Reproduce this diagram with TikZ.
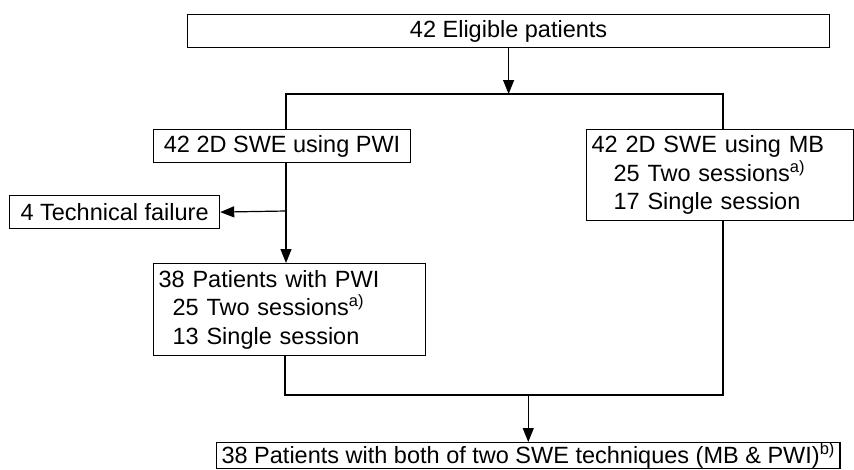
\documentclass[tikz,border=0pt]{standalone}
\usepackage{fontspec}
\setmainfont{Liberation Sans}
\usetikzlibrary{arrows.meta}
\begin{document}
\begin{tikzpicture}[x=1pt,y=-1pt,
 box/.style={draw, line width=1.2pt, inner sep=0pt, anchor=north west, font=\fontsize{23.5}{28.5}\selectfont},
 lbox/.style={box, align=left, inner xsep=5pt},
 link/.style={line width=1.2pt},
 arr/.style={link,-{Triangle[length=14pt,width=11pt]}}]
\useasboundingbox (0,0) rectangle (854,469);
\node[box, minimum width=642, minimum height=33] (top) at (187,14) {42 Eligible patients};
\node[box, minimum width=257, minimum height=33] (pwi) at (153,129) {42 2D SWE using PWI};
\node[lbox, text width=257, minimum height=91] (mb) at (586,129) {42 2D SWE using MB\\\hspace*{22pt}25 Two sessions\textsuperscript{a)}\\\hspace*{22pt}17 Single session};
\node[box, minimum width=210, minimum height=33] (tech) at (9,195) {4 Technical failure};
\node[lbox, text width=262, minimum height=92] (pat) at (153,263) {38 Patients with PWI\\\hspace*{14pt}25 Two sessions\textsuperscript{a)}\\\hspace*{14pt}13 Single session};
\node[box, minimum width=623, minimum height=26, align=left, inner xsep=5pt] (both) at (216,442) {38 Patients with both of two SWE techniques (MB \& PWI)\textsuperscript{b)}};
\coordinate (split) at (top.south |- 0,94);
\coordinate (bl) at (286,94);
\coordinate (br) at (723,94);
\coordinate (tf) at (286,211);
\coordinate (jl) at (285,395);
\coordinate (jr) at (723,395);
\coordinate (join) at (both.north |- jl);
\draw[arr] (top.south) -- (split);
\draw[link] (bl |- pwi.north) -- (bl) -- (br) -- (br |- mb.north);
\draw[arr] (bl |- pwi.south) -- (bl |- pat.north);
\draw[arr] (tf) -- (tech.east);
\draw[link] (jl |- pat.south) -- (jl) -- (jr) -- (jr |- mb.south);
\draw[arr] (join) -- (both.north);
\end{tikzpicture}
\end{document}
